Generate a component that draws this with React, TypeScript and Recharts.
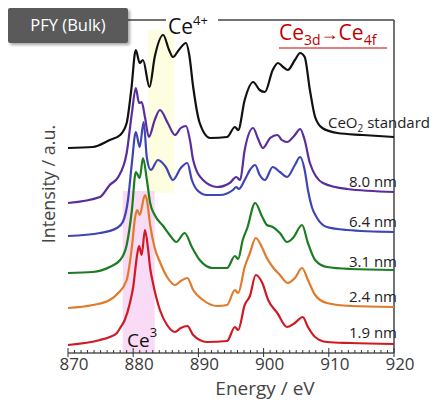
import React from "react"
import { LineChart, Line, XAxis, YAxis, ReferenceArea, ReferenceLine } from "recharts"

// energy (eV), stacked intensity (a.u.)
const ceo2Standard: [number, number][] = [
  [870.0, 205], [873.8, 206], [876.4, 213], [878.0, 218], [879.0, 230], [879.7, 263], [880.4, 303],
  [881.0, 290], [881.5, 293], [882.5, 266], [883.3, 296], [884.6, 318], [885.5, 303], [886.1, 296],
  [887.0, 303], [888.1, 310], [888.6, 298], [889.2, 266], [890.2, 230], [891.8, 215], [894.4, 216],
  [895.6, 226], [896.1, 223], [897.1, 253], [898.4, 271], [899.4, 263], [900.2, 261], [901.4, 283],
  [902.2, 290], [903.0, 286], [903.7, 283], [904.8, 293], [905.6, 300], [906.3, 296], [907.1, 263],
  [907.9, 236], [909.0, 225], [911.3, 220], [915.2, 218], [920.0, 216],
]

const film80: [number, number][] = [
  [870.0, 150], [874.9, 156], [876.4, 168], [877.7, 176], [879.0, 200], [879.8, 240], [880.4, 265],
  [880.9, 250], [881.3, 251], [881.8, 236], [882.4, 216], [883.3, 233], [884.1, 243], [885.3, 230],
  [886.4, 218], [887.3, 225], [888.1, 227], [888.7, 213], [889.2, 193], [890.7, 173], [892.9, 166],
  [894.8, 170], [895.8, 176], [896.4, 173], [897.1, 203], [898.4, 225], [899.1, 215], [899.9, 205],
  [901.0, 215], [902.1, 218], [902.8, 213], [903.6, 211], [904.8, 218], [905.6, 224], [906.3, 213],
  [907.1, 190], [909.1, 170], [912.8, 164], [920.0, 161],
]

const film64: [number, number][] = [
  [870.0, 117], [874.9, 120], [877.5, 125], [878.4, 131], [879.2, 153], [879.8, 190], [880.4, 221],
  [881.0, 206], [881.6, 231], [882.1, 195], [882.7, 183], [883.8, 193], [885.0, 186], [886.1, 173],
  [887.3, 185], [888.3, 190], [889.0, 173], [889.8, 163], [891.3, 158], [893.3, 158], [895.3, 163],
  [895.8, 166], [896.2, 164], [897.1, 173], [897.9, 183], [898.7, 188], [899.4, 178], [900.2, 173],
  [901.4, 186], [902.5, 181], [903.6, 176], [904.8, 188], [905.6, 196], [906.3, 183], [906.8, 163],
  [907.4, 146], [908.2, 135], [909.7, 126], [912.8, 123], [920.0, 121],
]

const film31: [number, number][] = [
  [870.0, 80], [873.8, 81], [876.4, 86], [878.0, 93], [879.0, 108], [879.8, 143], [880.4, 181],
  [881.0, 175], [881.5, 195], [882.1, 173], [882.6, 150], [883.3, 138], [884.6, 127], [885.6, 118],
  [886.6, 111], [887.9, 120], [889.0, 106], [890.2, 93], [892.2, 85], [894.4, 85], [895.6, 97],
  [896.1, 94], [896.8, 113], [897.5, 125], [898.7, 150], [899.8, 136], [900.5, 128], [901.4, 126],
  [902.5, 120], [903.6, 111], [904.5, 115], [905.9, 128], [906.8, 110], [907.9, 93], [909.7, 86],
  [913.3, 84], [920.0, 83],
]

const film24: [number, number][] = [
  [870.0, 45], [873.8, 48], [876.4, 53], [877.7, 60], [879.0, 73], [879.8, 106], [880.3, 136],
  [880.6, 143], [881.0, 138], [881.8, 158], [882.1, 153], [882.6, 128], [883.3, 105], [884.1, 91],
  [885.2, 76], [886.4, 68], [887.3, 72], [888.3, 75], [889.2, 63], [890.7, 53], [892.9, 47],
  [894.4, 48], [895.6, 63], [896.1, 60], [897.1, 86], [897.9, 100], [898.8, 115], [899.8, 105],
  [900.5, 95], [901.4, 86], [902.5, 78], [903.7, 70], [904.8, 75], [905.9, 85], [906.8, 73],
  [907.9, 58], [909.7, 50], [913.3, 47], [920.0, 46],
]

const film19: [number, number][] = [
  [870.0, 8], [874.9, 13], [876.4, 16], [877.5, 20], [878.0, 25], [878.7, 33], [879.5, 50],
  [880.0, 66], [880.6, 98], [880.9, 107], [881.3, 98], [881.8, 123], [882.3, 103], [882.6, 85],
  [883.0, 71], [884.1, 43], [885.2, 28], [886.4, 21], [887.3, 25], [888.3, 27], [889.2, 18],
  [891.3, 11], [894.4, 12], [895.6, 26], [896.1, 23], [897.1, 48], [897.9, 57], [898.8, 78],
  [899.8, 70], [900.7, 53], [902.1, 40], [903.6, 26], [904.8, 30], [906.0, 36], [906.8, 26],
  [907.9, 16], [909.7, 11], [913.3, 10], [920.0, 9],
]

const majorTicks = [870, 880, 890, 900, 910, 920]
const allTicks = Array.from({ length: 51 }, (_, i) => 870 + i)

const series = [
  { name: "CeO2 standard", points: ceo2Standard, color: "#111111" },
  { name: "8.0 nm", points: film80, color: "#5a2d9c" },
  { name: "6.4 nm", points: film64, color: "#3f45b5" },
  { name: "3.1 nm", points: film31, color: "#1c7c22" },
  { name: "2.4 nm", points: film24, color: "#e07b2b" },
  { name: "1.9 nm", points: film19, color: "#cf1a24" },
]

const W = 440
const H = 395
const FONT = "'Open Sans', 'Noto Sans', sans-serif"

function EnergyTick({ x, y, payload }: any) {
  const major = majorTicks.includes(payload.value)
  return (
    <g>
      <line x1={x} x2={x} y1={major ? y - 5 : y - 3} y2={major ? y + 4 : y} stroke="#333" strokeWidth={1} />
      {major && (
        <text x={x + 6} y={y + 17} textAnchor="middle" fontSize={17} fill="#3a3a3a" fontFamily={FONT}>
          {payload.value}
        </text>
      )}
    </g>
  )
}

export default function App() {
  return (
    <div style={{ position: "relative", width: W, height: H, fontFamily: FONT }}>
      <LineChart width={W} height={H} margin={{ top: 12, right: 54, bottom: 20, left: 60 }}>
        <XAxis
          type="number"
          dataKey="e"
          domain={[870, 920]}
          ticks={allTicks}
          interval={0}
          tick={<EnergyTick />}
          tickSize={0}
          tickMargin={0}
          tickLine={false}
          axisLine={{ stroke: "#555", strokeWidth: 1.5 }}
          height={30}
          allowDataOverflow
        />
        <YAxis
          type="number"
          domain={[0, 333]}
          width={0}
          tick={false}
          tickLine={false}
          axisLine={{ stroke: "#8a8a8a", strokeWidth: 2 }}
          allowDataOverflow
        />
        <ReferenceArea x1={882.3} x2={886.3} y1={160} y2={323} fill="#fdfde0" fillOpacity={1} stroke="none" />
        <ReferenceArea x1={878.4} x2={883.3} y1={0} y2={162} fill="#f9dbf5" fillOpacity={1} stroke="none" />
        <ReferenceLine y={333} stroke="#444" strokeWidth={1.5} />
        <ReferenceLine x={920} stroke="#444" strokeWidth={1.5} />
        {series.map((s) => (
          <Line
            key={s.name}
            data={s.points.map(([e, v]) => ({ e, v }))}
            dataKey="v"
            type="monotone"
            stroke={s.color}
            strokeWidth={2.2}
            strokeLinejoin="round"
            dot={false}
            isAnimationActive={false}
          />
        ))}
      </LineChart>

      <svg width={W} height={H} style={{ position: "absolute", left: 0, top: 0, overflow: "visible", pointerEvents: "none" }} fontFamily={FONT}>
        <defs>
          <filter id="shadow" x="-10%" y="-20%" width="130%" height="150%">
            <feDropShadow dx="2" dy="2" stdDeviation="1.5" floodColor="#000" floodOpacity="0.35" />
          </filter>
        </defs>
        <rect x={0} y={0} width={120} height={35} rx={2} fill="#5a5a5a" filter="url(#shadow)" />
        <text x={60} y={23} textAnchor="middle" fontSize={16.5} fill="#fff">PFY (Bulk)</text>

        <rect x={158} y={6} width={52} height={10} fill="#fff" />
        <text x={160} y={26} fontSize={21} fill="#111">
          Ce<tspan dy={-9} fontSize={13}>4+</tspan>
        </text>

        <text x={119} y={339} fontSize={19} fill="#111">
          Ce<tspan dy={-10} fontSize={13}>3</tspan>
        </text>

        <text x={271} y={32} fontSize={21} fill="#c00000">
          Ce<tspan dy={5} fontSize={14}>3d</tspan>
          <tspan dy={-5} fontSize={18}>→</tspan>
          <tspan fontSize={21}>Ce</tspan>
          <tspan dy={5} fontSize={14}>4f</tspan>
        </text>
        <line x1={271} x2={379} y1={40} y2={40} stroke="#c00000" strokeWidth={1.2} />

        <text x={320} y={120} fontSize={15} fill="#222">
          CeO<tspan dy={4} fontSize={10}>2</tspan>
          <tspan dy={-4}> standard</tspan>
        </text>
        <text x={389} y={179} textAnchor="end" fontSize={15} fill="#222">8.0 nm</text>
        <text x={389} y={219} textAnchor="end" fontSize={15} fill="#222">6.4 nm</text>
        <text x={389} y={259} textAnchor="end" fontSize={15} fill="#222">3.1 nm</text>
        <text x={389} y={294} textAnchor="end" fontSize={15} fill="#222">2.4 nm</text>
        <text x={389} y={330} textAnchor="end" fontSize={15} fill="#222">1.9 nm</text>

        <text x={40} y={176} transform="rotate(-90 40 176)" textAnchor="middle" dominantBaseline="central" fontSize={18} fill="#444">
          Intensity / a.u.
        </text>
        <text x={257} y={387} textAnchor="middle" fontSize={19} fill="#444">Energy / eV</text>
      </svg>
    </div>
  )
}
